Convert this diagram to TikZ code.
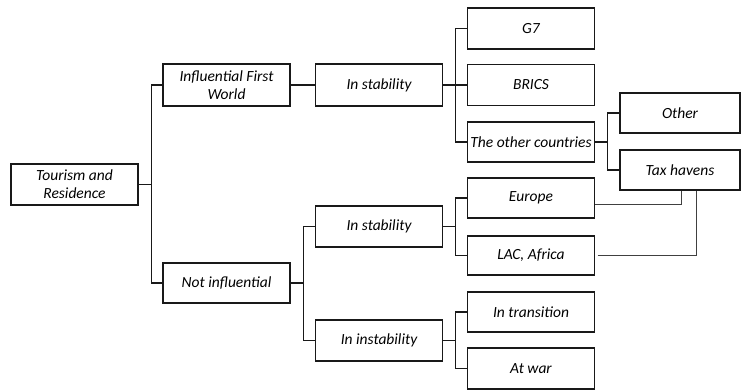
\documentclass[tikz,border=0pt]{standalone}
\usepackage{fontspec}
\setmainfont{Carlito}
\usetikzlibrary{positioning}

\begin{document}
\begin{tikzpicture}[node distance=152pt,
    box/.style={draw=black!90,line width=1.2pt,minimum width=127pt,minimum height=41pt,inner sep=1pt,align=center,font=\fontsize{15.5}{18}\selectfont\itshape},
    smallbox/.style={box,minimum width=120pt,minimum height=40pt},
    link/.style={draw=black!90,line width=1.1pt},
    cross/.style={draw=black!75,line width=0.7pt}]
    \useasboundingbox (-74.5pt,184.5pt) rectangle (666.5pt,-205.5pt);

    \node[box] (root) {Tourism and\\Residence};
    \node[box,right of = root,yshift=99.5pt,minimum height=42pt] (ifw) {Influential First\\World};
    \node[box,right of = root,yshift=-98.5pt,minimum height=40pt] (ni) {Not influential};

    \node[box,right of = ifw,xshift=.5pt,minimum height=42pt] (ist) {In stability};
    \node[box,right of = ni,xshift=.5pt,yshift=56.5pt] (isb) {In stability};
    \node[box,right of = ni,xshift=.5pt,yshift=-57.5pt] (iin) {In instability};

    \node[box,right of = ist,yshift=56.5pt] (g7) {G7};
    \node[box,right of = ist] (brics) {BRICS};
    \node[box,right of = ist,yshift=-57pt,minimum height=40pt] (toc) {The other countries};

    \node[box,right of = isb,yshift=28.5pt,minimum height=40pt] (eur) {Europe};
    \node[box,right of = isb,yshift=-29pt,minimum height=39pt] (lac) {LAC, Africa};
    \node[box,right of = iin,yshift=28.5pt,minimum height=40pt] (itr) {In transition};
    \node[box,right of = iin,yshift=-28pt] (war) {At war};

    \node[smallbox,right of = toc,xshift=-3pt,yshift=29pt] (oth) {Other};
    \node[smallbox,right of = toc,xshift=-3pt,yshift=-28pt] (tax) {Tax havens};

    % tree
    \path[link]
    (root.east) -- ++(13pt,0) |- (ifw.west)
    (root.east) -- ++(13pt,0) |- (ni.west)
    (ifw) -- (ist)
    (ni.east) -- ++(13pt,0) |- (isb.west)
    (ni.east) -- ++(13pt,0) |- (iin.west)
    (ist.east) -- ++(12pt,0) |- (g7.west)
    (ist) -- (brics)
    (ist.east) -- ++(12pt,0) |- (toc.west)
    (isb.east) -- ++(12pt,0) |- (eur.west)
    (isb.east) -- ++(12pt,0) |- (lac.west)
    (iin.east) -- ++(12pt,0) |- (itr.west)
    (iin.east) -- ++(12pt,0) |- (war.west)
    (toc.east) -- ++(12pt,0) |- (oth.west)
    (toc.east) -- ++(12pt,0) |- (tax.west);

    % links to tax havens
    \path[cross]
    ([yshift=-6pt]eur.east) -| ([xshift=1pt]tax.south)
    ([xshift=2.5pt]lac.east) -| ([xshift=16pt]tax.south);
\end{tikzpicture}
\end{document}
